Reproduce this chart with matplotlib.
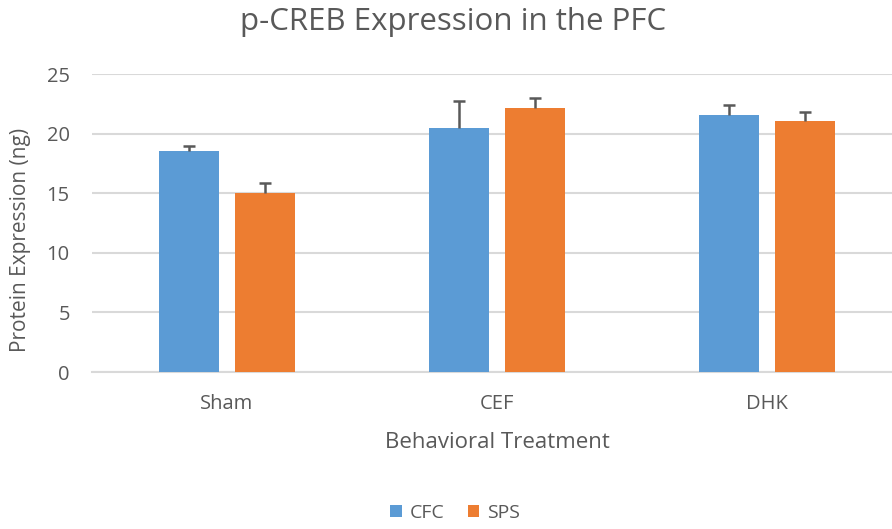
import matplotlib
matplotlib.use("Agg")
import matplotlib.pyplot as plt
import numpy as np

categories = ["Sham", "CEF", "DHK"]
cfc = [18.5, 20.5, 21.55]
cfc_err = [0.5, 2.25, 0.85]
sps = [15.0, 22.15, 21.05]
sps_err = [0.85, 0.8, 0.75]

plt.rcParams['font.family'] = ['Open Sans', 'DejaVu Sans']
txt = '#595959'

fig = plt.figure(figsize=(8.92, 5.29), dpi=100)
ax = fig.add_axes([92/892, 157/529, (902-92)/892, (372-74)/529])

x = np.arange(len(categories))
w = 0.222
off = 0.142
ax.bar(x - off, cfc, w, color='#5B9BD5', label='CFC', zorder=3)
ax.bar(x + off, sps, w, color='#ED7D31', label='SPS', zorder=3)

for xs, ys, es in [(x - off, cfc, cfc_err), (x + off, sps, sps_err)]:
    line, caps, bars = ax.errorbar(xs, ys, yerr=[[0]*len(es), es], fmt='none',
                                   ecolor='#595959', elinewidth=1.8, capsize=4.5,
                                   capthick=1.8, zorder=4)
    caps[0].set_visible(False)

ax.set_xlim(-0.5, 2.5)
ax.set_ylim(0, 25)
ax.set_yticks([0, 5, 10, 15, 20, 25])
ax.yaxis.grid(True, color='#D9D9D9', linewidth=1.5, zorder=0)
ax.set_axisbelow(True)
for s in ['top', 'right', 'left']:
    ax.spines[s].set_visible(False)
ax.spines['bottom'].set_color('#D9D9D9')
ax.spines['bottom'].set_linewidth(1.5)
ax.tick_params(axis='both', length=0, colors=txt, labelsize=14.5)
ax.tick_params(axis='y', pad=16)
ax.tick_params(axis='x', pad=16)
ax.set_xticks(x)
ax.set_xticklabels(categories)

ax.set_xlabel("Behavioral Treatment", fontsize=16, color=txt, va='center')
ax.xaxis.set_label_coords(0.5, (372 - 443) / 298)
ax.set_ylabel("Protein Expression (ng)", fontsize=15, color=txt, va='center')
ax.yaxis.set_label_coords((20 - 92) / 810, (372 - 240) / 298)
fig.text(453/892, 1 - 22/529, "p-CREB Expression in the PFC", ha='center', va='center',
         fontsize=22.5, color=txt)

leg = fig.legend(loc='center', bbox_to_anchor=(455/892, 1 - 513/529), ncol=2, frameon=False,
                 fontsize=14, handlelength=0.6, handleheight=0.6, columnspacing=1.2,
                 handletextpad=0.4, labelcolor=txt)

fig.savefig("out.png", dpi=100)
